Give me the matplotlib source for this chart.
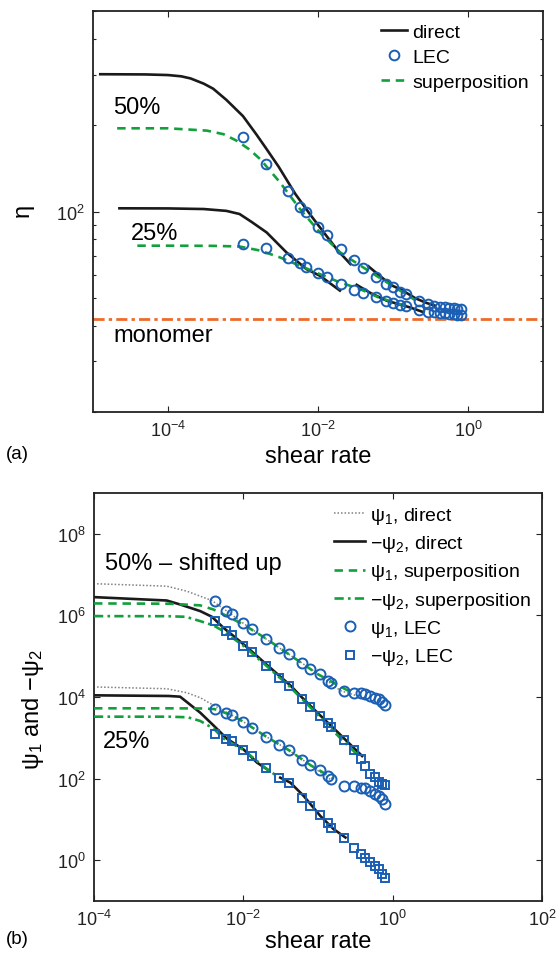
import numpy as np
import matplotlib
matplotlib.use("Agg")
import matplotlib.pyplot as plt
from matplotlib.ticker import FixedLocator, NullFormatter, NullLocator, LogFormatterSciNotation

plt.rcParams['font.family'] = ['Liberation Sans', 'DejaVu Sans']
plt.rcParams['mathtext.fontset'] = 'custom'
plt.rcParams['mathtext.rm'] = 'Liberation Sans'
plt.rcParams['mathtext.it'] = 'Liberation Sans:italic'
plt.rcParams['mathtext.bf'] = 'Liberation Sans:bold'

# ---------------- (a) shear viscosity ----------------
# direct simulation, 50% (two runs)
gam_dir50_a = [1.25e-5, 5e-5, 1e-4, 1.5e-4, 2e-4, 3e-4, 4e-4, 6e-4, 1e-3, 1.5e-3, 2e-3, 3e-3, 5e-3, 8e-3, 1.2e-2, 1.8e-2, 2.7e-2]
eta_dir50_a = [301, 300.5, 299, 296, 291, 279, 268, 245, 215, 186, 167, 143, 115, 97, 84.4, 73.6, 65.6]
gam_dir50_b = [0.047, 0.065, 0.08, 0.1, 0.13, 0.2, 0.28, 0.36]
eta_dir50_b = [64.4, 60, 57.4, 55, 53.3, 49.8, 48.0, 47.0]
# direct simulation, 25% (two runs)
gam_dir25_a = [2.25e-5, 1e-4, 3e-4, 6e-4, 9e-4, 1.3e-3, 2.07e-3, 3.8e-3, 7e-3, 1.06e-2, 1.96e-2]
eta_dir25_a = [102.6, 102.5, 102, 100.5, 98, 92, 84.5, 72, 63, 59.7, 53]
gam_dir25_b = [0.0328, 0.05, 0.082, 0.12, 0.169, 0.253]
eta_dir25_b = [55.5, 52, 48.9, 47.5, 46.3, 44.6]
# time-temperature superposition
gam_sup50 = [2.1e-5, 1e-4, 3.3e-4, 5.5e-4, 8.2e-4, 1.2e-3, 1.69e-3, 3.1e-3, 5.75e-3, 1.06e-2, 1.96e-2, 3.6e-2, 6e-2, 0.124, 0.2]
eta_sup50 = [195, 195, 191.4, 186, 176.6, 165, 152.4, 126.5, 102, 84.5, 72.1, 65, 59.7, 53, 49]
gam_sup25 = [3.9e-5, 1e-4, 4e-4, 9e-4, 1.69e-3, 3.1e-3, 5.75e-3, 1.06e-2, 1.96e-2, 3.6e-2, 6.4e-2, 0.1, 0.17]
eta_sup25 = [76, 76, 75.9, 75.5, 73.1, 69.2, 64.7, 60.5, 56.6, 53.7, 50.2, 48.3, 46.3]
# LEC
gam_lec = [0.001, 0.002, 0.004, 0.0058, 0.0069, 0.01, 0.013, 0.02, 0.03, 0.04, 0.06, 0.08,
           0.1, 0.125, 0.15, 0.22, 0.29, 0.35, 0.42, 0.49, 0.56, 0.65, 0.72, 0.8]
eta_lec50 = [182, 147, 118, 104, 100, 88.5, 82.8, 74, 67.8, 63.4, 59, 55.8,
             54.5, 52.4, 51.5, 48.9, 47.5, 47.0, 46.6, 46.3, 46.1, 46.0, 45.9, 45.8]
eta_lec25 = [77, 74.7, 68.9, 66, 64.2, 61, 59, 55.9, 53.3, 52, 50.2, 48.9,
             48.0, 47.2, 47.0, 45.4, 44.8, 44.6, 44.4, 44.2, 44.0, 43.8, 43.6, 43.4]
eta_monomer = 42.2

# ---------------- (b) normal stress coefficients ----------------
gam_psi1_dir50 = [1.1e-4, 9.4e-4, 1.75e-3, 2.64e-3, 3.78e-3, 6e-3, 1e-2, 2e-2, 4e-2, 0.1, 0.2, 0.37]
psi1_dir50 = [5.87e6, 5.14e6, 3.87e6, 2.92e6, 2.29e6, 1.26e6, 6.3e5, 2.63e5, 1.12e5, 3.63e4, 1.41e4, 1.0e4]
gam_psi1_dir25 = [1.1e-4, 9.4e-4, 1.75e-3, 2.64e-3, 3.78e-3, 7e-3, 1e-2, 2e-2, 4e-2, 0.08, 0.15]
psi1_dir25 = [1.74e4, 1.58e4, 1.26e4, 9.55e3, 6.55e3, 3.55e3, 2.45e3, 1.07e3, 501, 209, 91.2]

gam_psi2_dir50 = [1e-4, 9.4e-4, 1.42e-3, 2.64e-3, 3.78e-3, 5.4e-3, 1.11e-2, 2.07e-2, 4.24e-2, 5.8e-2, 9.66e-2, 0.179, 0.388]
psi2_dir50 = [2.77e6, 2.29e6, 1.83e6, 1.26e6, 9.16e5, 4.93e5, 1.66e5, 6.03e4, 1.91e4, 1.05e4, 4.17e3, 1.41e3, 355]
gam_psi2_dir25_a = [1e-4, 1e-3, 1.42e-3, 2.64e-3, 3.97e-3, 6.0e-3, 1.0e-2, 1.52e-2, 2.07e-2]
psi2_dir25_a = [1.09e4, 1.05e4, 1.01e4, 4.1e3, 2.0e3, 944, 519, 245, 168]
gam_psi2_dir25_b = [3.11e-2, 4.24e-2, 6.4e-2, 0.107, 0.161, 0.232]
psi2_dir25_b = [105, 79.4, 37.4, 12.1, 5.75, 3.59]

gam_psi1_sup50 = [1e-4, 1e-3, 2.64e-3, 3.97e-3, 6e-3, 1e-2, 2e-2, 4e-2, 0.1, 0.27]
psi1_sup50 = [1.94e6, 1.91e6, 1.74e6, 1.38e6, 9.55e5, 5.89e5, 2.69e5, 1.12e5, 3.55e4, 1.32e4]
gam_psi1_sup25 = [1e-4, 1e-3, 3e-3, 4.1e-3, 7e-3, 1e-2, 2e-2, 4e-2, 0.08, 0.16]
psi1_sup25 = [5.24e3, 5.24e3, 5.19e3, 5.01e3, 3.55e3, 2.45e3, 1.07e3, 501, 209, 100]

gam_psi2_sup50 = [1e-4, 1e-3, 1.7e-3, 2.64e-3, 3.97e-3, 5.4e-3, 1e-2, 2e-2, 4e-2, 0.1, 0.2, 0.35]
psi2_sup50 = [9.48e5, 9.44e5, 9.12e5, 7.16e5, 5.62e5, 4.07e5, 1.78e5, 5.89e4, 1.91e4, 3.55e3, 955, 355]
gam_psi2_sup25 = [1e-4, 1e-3, 1.8e-3, 2.64e-3, 4e-3, 5.4e-3, 1e-2, 2e-2, 2.8e-2]
psi2_sup25 = [3.27e3, 3.27e3, 3.16e3, 2.57e3, 1.66e3, 955, 501, 178, 115]

gam_psi_lec = [0.0041, 0.0059, 0.007, 0.01, 0.0132, 0.02, 0.03, 0.041, 0.06, 0.0785, 0.105,
               0.134, 0.149, 0.22, 0.30, 0.37, 0.43, 0.50, 0.57, 0.65, 0.72, 0.79]
psi1_lec50 = [2.21e6, 1.26e6, 1.04e6, 6.3e5, 4.66e5, 2.65e5, 1.6e5, 1.1e5, 6.9e4, 4.9e4, 3.55e4,
              2.5e4, 2.14e4, 1.38e4, 1.26e4, 1.22e4, 1.15e4, 1.05e4, 9.5e3, 8.7e3, 7.5e3, 6.2e3]
psi2_lec50 = [7.4e5, 4.0e5, 3.2e5, 1.78e5, 1.23e5, 5.75e4, 2.95e4, 1.82e4, 8.9e3, 5.5e3, 3.47e3,
              2.29e3, 1.78e3, 891, 513, 295, 200, 132, 107, 83, 72, 68]
psi1_lec25 = [5140, 4100, 3520, 2420, 1770, 1060, 661, 499, 288, 214, 166,
              115, 98, 65.8, 65.8, 59.8, 59.8, 50.1, 42.7, 37.2, 30.9, 23.4]
psi2_lec25 = [1200, 912, 828, 499, 355, 185, 105, 79.4, 34.2, 21.4, 12.6,
              7.94, 6.31, 3.59, 2.04, 1.40, 1.16, 0.877, 0.726, 0.603, 0.468, 0.372]

BLACK = '#1a1a1a'
GREEN = '#12a03c'
BLUE = '#1a5fb4'
ORANGE = '#ee6a2c'
GREY = '#808080'
DASH = (0, (3.2, 2.2))
DASHDOT = (0, (3.5, 1.6, 1.0, 1.6))
LW = 1.9

fig = plt.figure(figsize=(5.58, 9.54), dpi=100)
ax1 = fig.add_axes([93 / 558, 1 - 413 / 954, 450 / 558, 401 / 954])
ax2 = fig.add_axes([94 / 558, 1 - 902 / 954, 448.3 / 558, 408.3 / 954])

# ---- panel (a)
ax1.axhline(eta_monomer, color=ORANGE, lw=2.0, ls=(0, (4, 1.5, 1.2, 1.5)), zorder=1)
l_dir, = ax1.plot(gam_dir50_a, eta_dir50_a, color=BLACK, lw=LW, zorder=2)
ax1.plot(gam_dir50_b, eta_dir50_b, color=BLACK, lw=LW, zorder=2)
ax1.plot(gam_dir25_a, eta_dir25_a, color=BLACK, lw=LW, zorder=2)
ax1.plot(gam_dir25_b, eta_dir25_b, color=BLACK, lw=LW, zorder=2)
l_sup, = ax1.plot(gam_sup50, eta_sup50, color=GREEN, lw=LW, ls=DASH, zorder=3)
ax1.plot(gam_sup25, eta_sup25, color=GREEN, lw=LW, ls=DASH, zorder=3)
l_lec, = ax1.plot(gam_lec, eta_lec50, ls='none', marker='o', ms=7, mfc='none', mec=BLUE, mew=1.4, zorder=4)
ax1.plot(gam_lec, eta_lec25, ls='none', marker='o', ms=7, mfc='none', mec=BLUE, mew=1.4, zorder=4)

ax1.set_xscale('log')
ax1.set_yscale('log')
ax1.set_xlim(1e-5, 1e1)
ax1.set_ylim(20, 500)
ax1.xaxis.set_major_locator(FixedLocator([1e-4, 1e-2, 1e0]))
ax1.xaxis.set_minor_locator(NullLocator())
ax1.xaxis.set_major_formatter(LogFormatterSciNotation())
ax1.yaxis.set_major_locator(FixedLocator([1e2]))
ax1.yaxis.set_major_formatter(LogFormatterSciNotation())
ax1.yaxis.set_minor_locator(FixedLocator([20, 30, 40, 50, 60, 70, 80, 90, 200, 300, 400, 500]))
ax1.yaxis.set_minor_formatter(NullFormatter())

ax1.text(1.85e-5, 220, '50%', fontsize=17, ha='left', va='baseline')
ax1.text(3.2e-5, 80.2, '25%', fontsize=17, ha='left', va='baseline')
ax1.text(1.85e-5, 35.4, 'monomer', fontsize=17, ha='left', va='baseline')

ax1.legend([l_dir, l_lec, l_sup], ['direct', 'LEC', 'superposition'],
           loc='upper left', bbox_to_anchor=(0.64, 0.97), frameon=False,
           fontsize=14, handlelength=1.35, handletextpad=0.25, labelspacing=0.38,
           borderpad=0, borderaxespad=0)

# ---- panel (b)
MS = r'$\mathregular{\psi_1}$'
M2 = r'$\mathregular{-\psi_2}$'
h1, = ax2.plot(gam_psi1_dir50, psi1_dir50, color=GREY, lw=1.1, ls=(0, (1, 1.3)), zorder=2)
ax2.plot(gam_psi1_dir25, psi1_dir25, color=GREY, lw=1.1, ls=(0, (1, 1.3)), zorder=2)
h2, = ax2.plot(gam_psi2_dir50, psi2_dir50, color=BLACK, lw=LW, zorder=2)
ax2.plot(gam_psi2_dir25_a, psi2_dir25_a, color=BLACK, lw=LW, zorder=2)
ax2.plot(gam_psi2_dir25_b, psi2_dir25_b, color=BLACK, lw=LW, zorder=2)
h3, = ax2.plot(gam_psi1_sup50, psi1_sup50, color=GREEN, lw=LW, ls=DASH, zorder=3)
ax2.plot(gam_psi1_sup25, psi1_sup25, color=GREEN, lw=LW, ls=DASH, zorder=3)
h4, = ax2.plot(gam_psi2_sup50, psi2_sup50, color=GREEN, lw=LW, ls=DASHDOT, zorder=3)
ax2.plot(gam_psi2_sup25, psi2_sup25, color=GREEN, lw=LW, ls=DASHDOT, zorder=3)
h5, = ax2.plot(gam_psi_lec, psi1_lec50, ls='none', marker='o', ms=7.2, mfc='none', mec=BLUE, mew=1.4, zorder=4)
ax2.plot(gam_psi_lec, psi1_lec25, ls='none', marker='o', ms=7.2, mfc='none', mec=BLUE, mew=1.4, zorder=4)
h6, = ax2.plot(gam_psi_lec, psi2_lec50, ls='none', marker='s', ms=6, mfc='none', mec=BLUE, mew=1.4, zorder=4)
ax2.plot(gam_psi_lec, psi2_lec25, ls='none', marker='s', ms=6, mfc='none', mec=BLUE, mew=1.4, zorder=4)

ax2.set_xscale('log')
ax2.set_yscale('log')
ax2.set_xlim(1e-4, 1e2)
ax2.set_ylim(1e-1, 1e9)
ax2.xaxis.set_major_locator(FixedLocator([1e-4, 1e-2, 1e0, 1e2]))
ax2.xaxis.set_minor_locator(NullLocator())
ax2.xaxis.set_major_formatter(LogFormatterSciNotation())
ax2.yaxis.set_major_locator(FixedLocator([1e0, 1e2, 1e4, 1e6, 1e8]))
ax2.yaxis.set_minor_locator(NullLocator())
ax2.yaxis.set_major_formatter(LogFormatterSciNotation())

ax2.text(1.39e-4, 1.37e7, '50% \u2013 shifted up', fontsize=17, ha='left', va='baseline')
ax2.text(1.32e-4, 604, '25%', fontsize=17, ha='left', va='baseline')

ax2.legend([h1, h2, h3, h4, h5, h6],
           [MS + ', direct', M2 + ', direct', MS + ', superposition',
            M2 + ', superposition', MS + ', LEC', M2 + ', LEC'],
           loc='upper left', bbox_to_anchor=(0.536, 0.971), frameon=False,
           fontsize=14, handlelength=1.6, handletextpad=0.25, labelspacing=0.38,
           borderpad=0, borderaxespad=0)

for ax in (ax1, ax2):
    for s in ax.spines.values():
        s.set_linewidth(1.3)
        s.set_color('#222222')
    ax.tick_params(which='both', direction='in', top=True, right=True,
                   labelsize=13, colors='#222222', width=0.8)
    ax.tick_params(which='major', length=4, pad=6)
    ax.tick_params(which='minor', length=2.5)

fig.text(23 / 558, 1 - 210 / 954, '\u03b7', fontsize=17, rotation=90, ha='center', va='center')
fig.text(318 / 558, 1 - 463 / 954, 'shear rate', fontsize=17, ha='center', va='baseline')
fig.text(6 / 558, 1 - 455 / 954, '(a)', fontsize=13.5, ha='left', va='center')

fig.text(33.5 / 558, 1 - 710 / 954, r'$\mathregular{\psi_1}$ and $\mathregular{-\psi_2}$',
         fontsize=17, rotation=90, ha='center', va='center')
fig.text(318 / 558, 1 - 948 / 954, 'shear rate', fontsize=17, ha='center', va='baseline')
fig.text(6 / 558, 1 - 940 / 954, '(b)', fontsize=13.5, ha='left', va='center')

fig.savefig('out.png', dpi=100)
